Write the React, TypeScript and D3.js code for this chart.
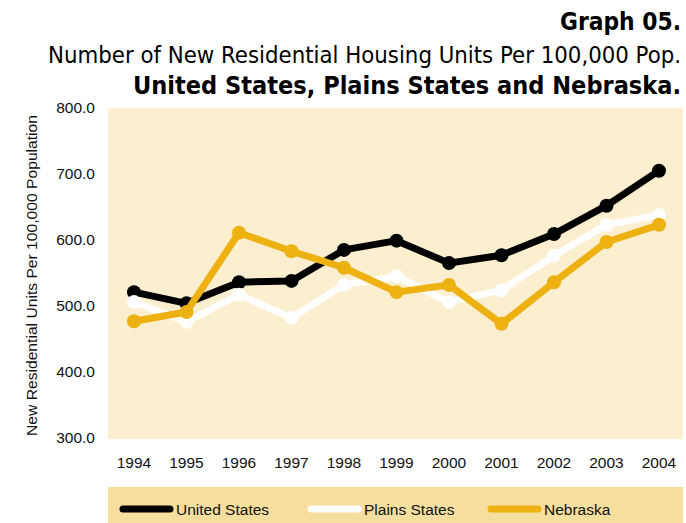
import React from "react";
import * as d3 from "d3";

const years = [1994, 1995, 1996, 1997, 1998, 1999, 2000, 2001, 2002, 2003, 2004];
const unitedStates = [521, 504, 536, 538, 585, 599, 565, 577, 609, 652, 705];
const plainsStates = [506, 476, 517, 482, 532, 545, 506, 524, 576, 623, 638];
const nebraska = [477, 491, 611, 583, 558, 521, 532, 473, 536, 597, 623];
const yTicks = [300, 400, 500, 600, 700, 800];

const seriesNames = ["United States", "Plains States", "Nebraska"];
const seriesColors = ["#000000", "#ffffff", "#EDB111"];

const W = 686;
const H = 523;
const plot = { left: 108, right: 683, top: 108, bottom: 439 };

export default function App() {
  const x = d3.scaleLinear().domain([1994, 2004]).range([134, 659]);
  const y = d3.scaleLinear().domain([300, 800]).range([438, 108]);
  const line = d3
    .line<number>()
    .x((_, i) => x(years[i]))
    .y((d) => y(d));
  const data = [unitedStates, plainsStates, nebraska];
  const font = "'Liberation Sans', Arial, sans-serif";
  const narrow = "'DejaVu Sans Condensed', 'Liberation Sans Narrow', sans-serif";
  const legendX = [120, 308, 488];

  return (
    <svg width={W} height={H} style={{ position: "absolute", left: 0, top: 0 }}>
      <rect x={0} y={0} width={W} height={H} fill="#fff" />
      <text x={681} y={30} textAnchor="end" fontFamily={narrow} fontWeight="bold" fontSize={25} fill="#000" textLength={121} lengthAdjust="spacingAndGlyphs">
        Graph 05.
      </text>
      <text x={681} y={63} textAnchor="end" fontFamily={narrow} fontSize={23} fill="#000" textLength={633} lengthAdjust="spacingAndGlyphs">
        Number of New Residential Housing Units Per 100,000 Pop.
      </text>
      <text x={681} y={94} textAnchor="end" fontFamily={narrow} fontWeight="bold" fontSize={25} fill="#000" textLength={548} lengthAdjust="spacingAndGlyphs">
        United States, Plains States and Nebraska.
      </text>

      <rect x={plot.left} y={plot.top} width={plot.right - plot.left} height={plot.bottom - plot.top} fill="#FCEFD0" />

      {yTicks.map((t) => (
        <text key={t} x={95} y={y(t) + 5} textAnchor="end" fontFamily={font} fontSize={15.5} fill="#111">
          {t.toFixed(1)}
        </text>
      ))}
      {years.map((yr) => (
        <text key={yr} x={x(yr)} y={468} textAnchor="middle" fontFamily={font} fontSize={15.5} fill="#111">
          {yr}
        </text>
      ))}
      <text
        transform={`translate(37, ${(115 + 436) / 2}) rotate(-90)`}
        textAnchor="middle"
        fontFamily={font}
        fontSize={14}
        fill="#111"
        textLength={321}
        lengthAdjust="spacingAndGlyphs"
      >
        New Residential Units Per 100,000 Population
      </text>

      {data.map((vals, si) => (
        <g key={si}>
          <path d={line(vals) || ""} fill="none" stroke={seriesColors[si]} strokeWidth={7} strokeLinejoin="round" />
          {vals.map((v, i) => (
            <circle key={i} cx={x(years[i])} cy={y(v)} r={7} fill={seriesColors[si]} />
          ))}
        </g>
      ))}

      <rect x={plot.left} y={487} width={plot.right - plot.left} height={H - 487} fill="#F6DE9E" />
      {seriesNames.map((n, i) => (
        <g key={n}>
          <line x1={legendX[i] + 3} x2={legendX[i] + 50} y1={509} y2={509} stroke={seriesColors[i]} strokeWidth={7} strokeLinecap="round" />
          <text x={legendX[i] + 56} y={515} fontFamily={font} fontSize={15.5} fill="#111">
            {n}
          </text>
        </g>
      ))}
    </svg>
  );
}
